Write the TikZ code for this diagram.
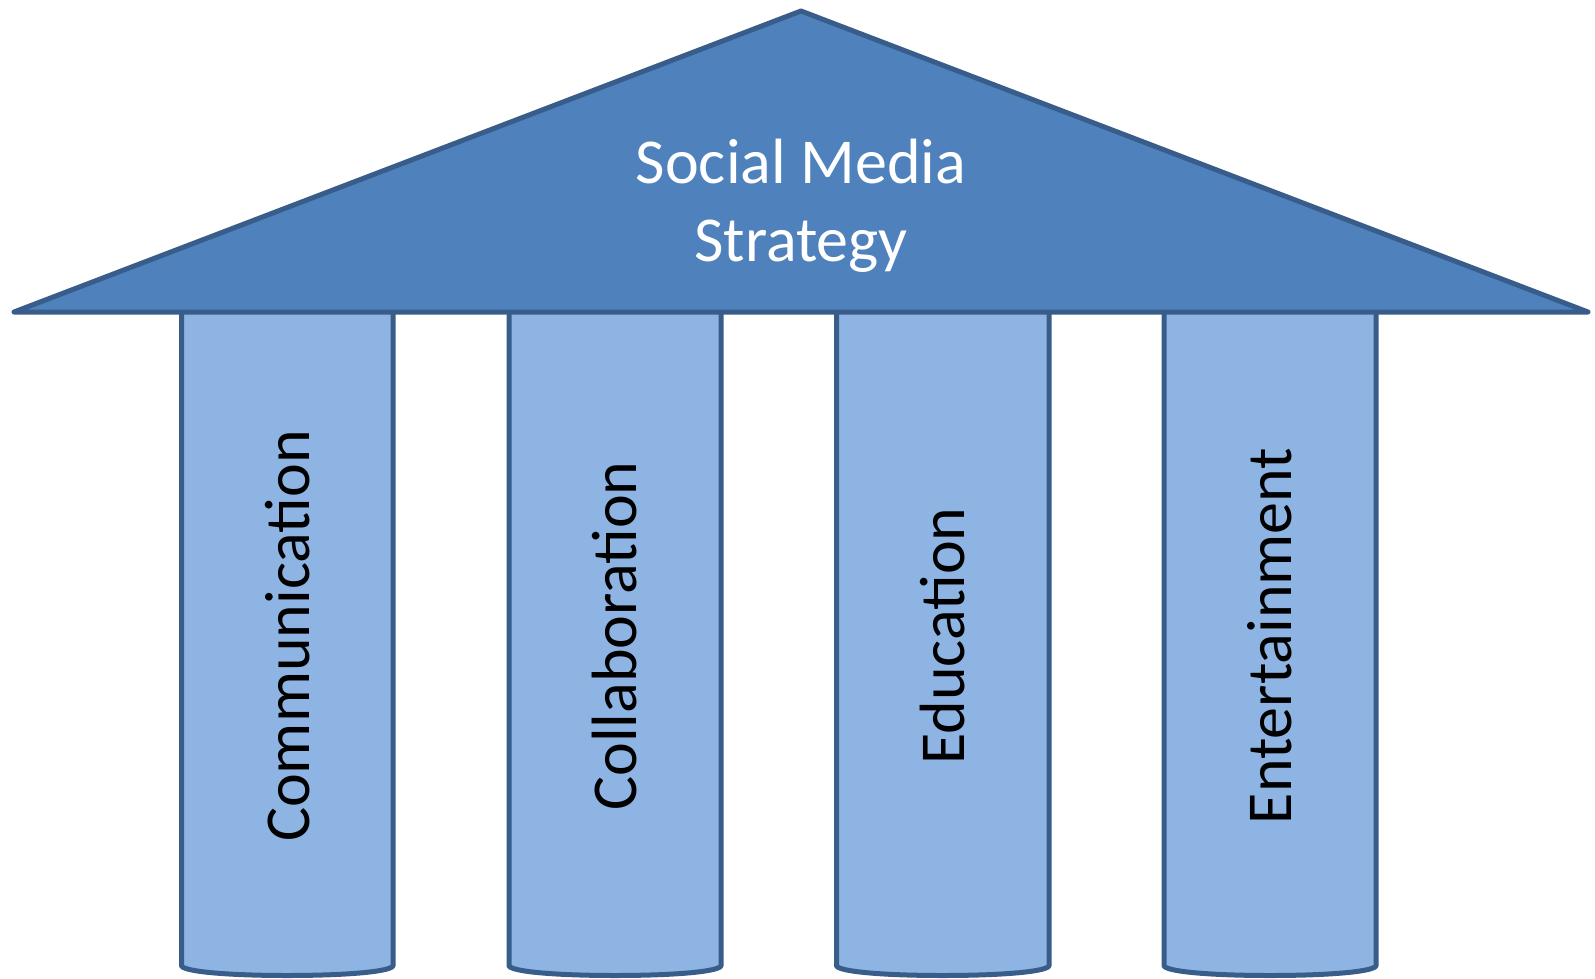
\documentclass[tikz,border=0pt]{standalone}
\usepackage{fontspec}
\setmainfont{Carlito}
\definecolor{roofblue}{HTML}{4F81BD}
\definecolor{edgeblue}{HTML}{385D8A}
\definecolor{pillarblue}{HTML}{8EB4E3}
\begin{document}
\begin{tikzpicture}[x=1pt,y=-1pt,
  pillarbox/.style={fill=pillarblue,draw=edgeblue,line width=5pt,line join=round},
  roofbox/.style={fill=roofblue,draw=edgeblue,line width=5pt,line join=round,line cap=round},
  pillartext/.style={rotate=90,font=\fontsize{64}{76}\selectfont,text=black,inner sep=0pt},
  rooftext/.style={align=center,font=\fontsize{64}{78}\selectfont,text=white,inner sep=0pt}]
\useasboundingbox (0,0) rectangle (1595,979);
% pillars
\foreach \xa/\xb in {181.5/393, 509/721, 836.5/1049, 1164/1376}{
  \pgfmathsetmacro{\xm}{(\xa+\xb)/2}
  \draw[pillarbox] (\xa,312) -- (\xa,966)
    .. controls (\xa+4,972) and (\xa+50,975.5) .. (\xm,975.5)
    .. controls (\xb-50,975.5) and (\xb-4,972) .. (\xb,966) -- (\xb,312);
}
% roof
\draw[roofbox] (14,312) -- (801,11) -- (1588,312) -- cycle;
\node[rooftext] (roof) at (801,206) {Social Media\\Strategy};
\node[pillartext] (p1) at (288,636) {Communication};
\node[pillartext] (p2) at (615,636) {Collaboration};
\node[pillartext] (p3) at (943,636) {Education};
\node[pillartext] (p4) at (1270,636) {Entertainment};
\end{tikzpicture}
\end{document}
